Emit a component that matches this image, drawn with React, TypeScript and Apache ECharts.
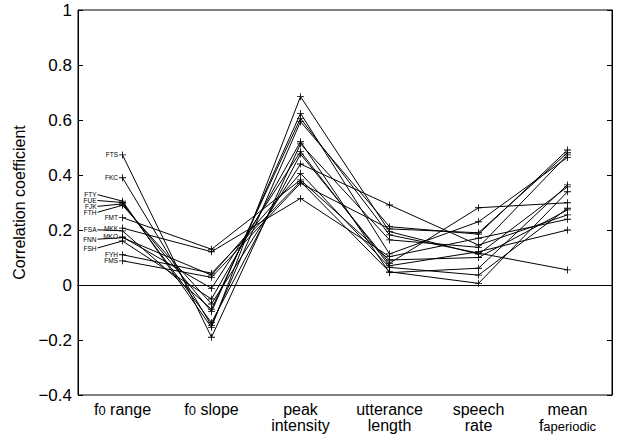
import React, { useEffect, useRef } from "react";
import * as echarts from "echarts";

const categories = ["f{sub|0} range", "f{sub|0} slope", "peak\nintensity", "utterance\nlength", "speech\nrate", "mean\nf{sub|aperiodic}"];
const speakers = ["FTS", "FKC", "FTY", "FUE", "FJK", "FTH", "FMT", "MKK", "FSA", "FNN", "MKO", "FSH", "FYH", "FMS"];
const FTS = [0.473, -0.19, 0.513, 0.164, 0.137, 0.473];
const FKC = [0.39, -0.147, 0.594, 0.212, 0.185, 0.491];
const FTY = [0.305, -0.154, 0.685, 0.194, 0.112, 0.357];
const FUE = [0.30, -0.137, 0.476, 0.079, 0.281, 0.299];
const FJK = [0.295, -0.097, 0.624, 0.113, 0.23, 0.464];
const FTH = [0.29, -0.069, 0.44, 0.291, 0.145, 0.255];
const FMT = [0.245, 0.13, 0.382, 0.091, 0.10, 0.273];
const MKK = [0.207, 0.121, 0.315, 0.103, 0.17, 0.239];
const FSA = [0.197, -0.088, 0.606, 0.182, 0.116, 0.055];
const FNN = [0.172, 0.036, 0.406, 0.064, 0.036, 0.279];
const MKO = [0.175, -0.012, 0.485, 0.07, 0.121, 0.2];
const FSH = [0.16, -0.051, 0.521, 0.045, 0.061, 0.364];
const FYH = [0.11, 0.043, 0.376, 0.048, 0.006, 0.339];
const FMS = [0.088, 0.028, 0.37, 0.204, 0.19, 0.481];
const seriesValues = [FTS, FKC, FTY, FUE, FJK, FTH, FMT, MKK, FSA, FNN, MKO, FSH, FYH, FMS];
// leader-label pixel offsets from the point (style only): [dx to label right end, dy]
const leaderOffsets: Record<string, [number, number]> = {
  FTY: [-26, -6.5],
  FUE: [-26, -2],
  FJK: [-26, 2.5],
  FTH: [-26, 7],
  FSA: [-26, -1],
  FNN: [-26, 1.5],
  FSH: [-26, 7],
};

const plusPath = "path://M4.4,0h1.2v4.4h4.4v1.2h-4.4v4.4h-1.2v-4.4h-4.4v-1.2h4.4z";
const FONT = "Liberation Sans, Arial, Helvetica, sans-serif";
const LABEL_SIZE = 6.5;

export default function App() {
  const ref = useRef<HTMLDivElement>(null);
  useEffect(() => {
    document.body.style.margin = "0";
    const chart = echarts.init(ref.current!, null, { renderer: "svg" });
    const series: any[] = seriesValues.map((vals, i) => {
      const name = speakers[i];
      const lead = leaderOffsets[name];
      return {
        type: "line",
        name,
        symbol: plusPath,
        symbolSize: 7,
        itemStyle: { color: "#000" },
        lineStyle: { color: "#000", width: 1 },
        data: vals.map((v, j) =>
          j === 0 && !lead
            ? {
                value: v,
                label: {
                  show: true,
                  position: "left",
                  distance: 1,
                  formatter: name,
                  fontSize: LABEL_SIZE,
                  lineHeight: 5.5,
                  fontFamily: FONT,
                  color: "#000",
                },
              }
            : v
        ),
        z: 3,
      };
    });
    series.push({
      type: "line",
      data: [],
      markLine: {
        silent: true,
        symbol: "none",
        label: { show: false },
        lineStyle: { color: "#000", width: 1, type: "solid" },
        data: [{ yAxis: 0 }],
      },
    });
    chart.setOption({
      animation: false,
      grid: { left: 78, right: 18, top: 10, bottom: 42, show: true, borderColor: "#000", borderWidth: 1 },
      xAxis: [
        {
          type: "category",
          data: categories,
          boundaryGap: true,
          axisLine: { lineStyle: { color: "#000" } },
          axisTick: { inside: true, alignWithLabel: true, length: 5, lineStyle: { color: "#000" } },
          axisLabel: {
            color: "#000",
            fontSize: 16,
            fontFamily: FONT,
            margin: 6,
            lineHeight: 16,
            interval: 0,
            rich: { sub: { fontSize: 13, verticalAlign: "bottom", padding: [7, 0, 0, 0], fontFamily: FONT, color: "#000" } },
          },
        },
        {
          type: "category",
          position: "top",
          data: categories,
          boundaryGap: true,
          axisLine: { lineStyle: { color: "#000" } },
          axisTick: { inside: true, alignWithLabel: true, length: 5, lineStyle: { color: "#000" } },
          axisLabel: { show: false },
        },
      ],
      yAxis: [
        {
          type: "value",
          min: -0.4,
          max: 1,
          interval: 0.2,
          name: "Correlation coefficient",
          nameLocation: "middle",
          nameGap: 50,
          nameTextStyle: { color: "#000", fontSize: 16, fontFamily: FONT },
          axisLine: { show: true, lineStyle: { color: "#000" } },
          axisTick: { show: true, inside: true, length: 5, lineStyle: { color: "#000" } },
          splitLine: { show: false },
          axisLabel: {
            color: "#000",
            fontSize: 17,
            fontFamily: FONT,
            margin: 6,
            formatter: (v: number) => {
              const r = Math.round(v * 10) / 10;
              if (r === 0) return "0";
              if (r === 1) return "1";
              return (r < 0 ? "\u2212" : "") + Math.abs(r).toFixed(1);
            },
          },
        },
        {
          type: "value",
          position: "right",
          min: -0.4,
          max: 1,
          interval: 0.2,
          axisLine: { show: true, lineStyle: { color: "#000" } },
          axisTick: { show: true, inside: true, length: 5, lineStyle: { color: "#000" } },
          splitLine: { show: false },
          axisLabel: { show: false },
        },
      ],
      series,
    });

    // leader-line labels placed relative to each series' first point (pixel from the axis scales)
    const graphics: any[] = [];
    speakers.forEach((name, i) => {
      const lead = leaderOffsets[name];
      if (!lead) return;
      const p = chart.convertToPixel({ xAxisIndex: 0, yAxisIndex: 0 }, [0, seriesValues[i][0]]) as number[];
      const lx = p[0] + lead[0];
      const ly = p[1] + lead[1];
      graphics.push({
        type: "text",
        x: lx,
        y: ly,
        z: 10,
        style: {
          text: name,
          fontSize: LABEL_SIZE,
          lineHeight: 5.5,
          fontFamily: FONT,
          fill: "#000",
          align: "right",
          verticalAlign: "middle",
        },
      });
      graphics.push({
        type: "line",
        z: 10,
        shape: { x1: lx + 1, y1: ly, x2: p[0], y2: p[1] },
        style: { stroke: "#000", lineWidth: 1 },
      });
    });
    chart.setOption({ graphic: graphics });
    return () => chart.dispose();
  }, []);
  return <div ref={ref} style={{ position: "fixed", left: 0, top: 0, width: 630, height: 437, background: "#fff" }} />;
}
